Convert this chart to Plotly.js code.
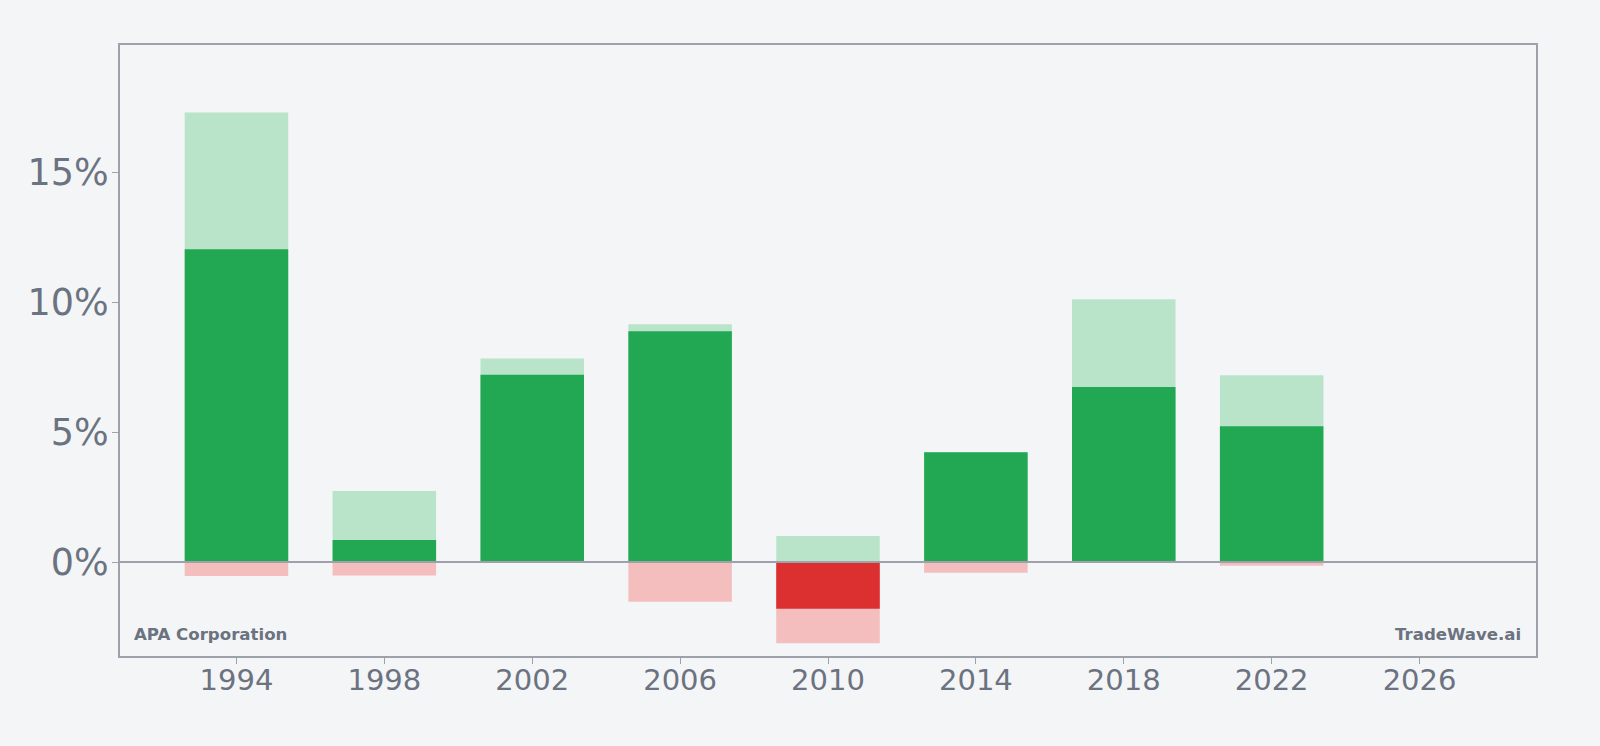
<!DOCTYPE html>
<html>
<head>
<meta charset="utf-8">
<script src="https://cdn.plot.ly/plotly-3.0.1.min.js"></script>
<style>
  html, body { margin: 0; padding: 0; background: #f4f5f7; }
  #chart { width: 1600px; height: 746px; }
</style>
</head>
<body>
<div id="chart"></div>
<script>
// Four-year periods, return in percent with the period's best and worst
const years = [1994, 1998, 2002, 2006, 2010, 2014, 2018, 2022];
const returns = [12.05, 0.85, 7.22, 8.89, -1.80, 4.23, 6.74, 5.23];
const highs = [17.32, 2.74, 7.84, 9.16, 1.00, 4.23, 10.12, 7.20];
const lows = [-0.54, -0.52, 0, -1.53, -3.13, -0.41, 0, -0.14];
const xTicks = [1994, 1998, 2002, 2006, 2010, 2014, 2018, 2022, 2026];
const yTicks = [0, 5, 10, 15];

const GREEN = '#22a853';
const GREEN_LIGHT = '#b9e4ca';
const RED = '#dc2f2f';
const RED_LIGHT = '#f4bebe';
const FRAME = '#9ea1aa';
const TEXT = '#6b7280';
const BAR_W = 2.8;

const traces = [
  {
    type: 'bar', x: years, y: highs, width: BAR_W,
    marker: { color: GREEN_LIGHT, line: { width: 0 } },
    hoverinfo: 'skip', showlegend: false
  },
  {
    type: 'bar', x: years, y: lows, width: BAR_W,
    marker: { color: RED_LIGHT, line: { width: 0 } },
    hoverinfo: 'skip', showlegend: false
  },
  {
    type: 'bar', x: years, y: returns, width: BAR_W,
    marker: { color: returns.map(v => v >= 0 ? GREEN : RED), line: { width: 0 } },
    showlegend: false
  }
];

const layout = {
  width: 1600, height: 746,
  paper_bgcolor: '#f4f5f7',
  plot_bgcolor: '#f4f5f7',
  barmode: 'overlay',
  margin: { l: 120, r: 64, t: 45, b: 90 },
  font: { family: 'DejaVu Sans', color: TEXT },
  xaxis: {
    range: [1990.85, 2029.15],
    tickvals: xTicks,
    ticktext: xTicks.map(String),
    tickfont: { size: 29, color: TEXT },
    ticklabelstandoff: -9,
    showgrid: false, zeroline: false,
    showline: true, mirror: true, linecolor: FRAME, linewidth: 2,
    ticks: 'outside', ticklen: 6, tickcolor: FRAME, tickwidth: 1
  },
  yaxis: {
    range: [-3.62, 19.92],
    tickvals: yTicks,
    ticktext: yTicks.map(v => v + '%'),
    tickfont: { size: 36.5, color: TEXT },
    ticklabelstandoff: -4,
    showgrid: false, zeroline: false,
    showline: true, mirror: true, linecolor: FRAME, linewidth: 2,
    ticks: 'outside', ticklen: 6, tickcolor: FRAME, tickwidth: 1
  },
  shapes: [
    {
      type: 'line', xref: 'paper', x0: 0, x1: 1, yref: 'y', y0: 0, y1: 0,
      line: { color: FRAME, width: 2 }, layer: 'above'
    }
  ],
  annotations: [
    {
      text: '<b>APA Corporation</b>', xref: 'paper', yref: 'paper',
      x: 0, y: 0, xanchor: 'left', yanchor: 'bottom', xshift: 12, yshift: 10,
      showarrow: false, font: { size: 16.6, color: TEXT, family: 'DejaVu Sans' }
    },
    {
      text: '<b>TradeWave.ai</b>', xref: 'paper', yref: 'paper',
      x: 1, y: 0, xanchor: 'right', yanchor: 'bottom', xshift: -13, yshift: 10,
      showarrow: false, font: { size: 16.6, color: TEXT, family: 'DejaVu Sans' }
    }
  ]
};

Plotly.newPlot('chart', traces, layout, { displayModeBar: false, staticPlot: true });
</script>
</body>
</html>
